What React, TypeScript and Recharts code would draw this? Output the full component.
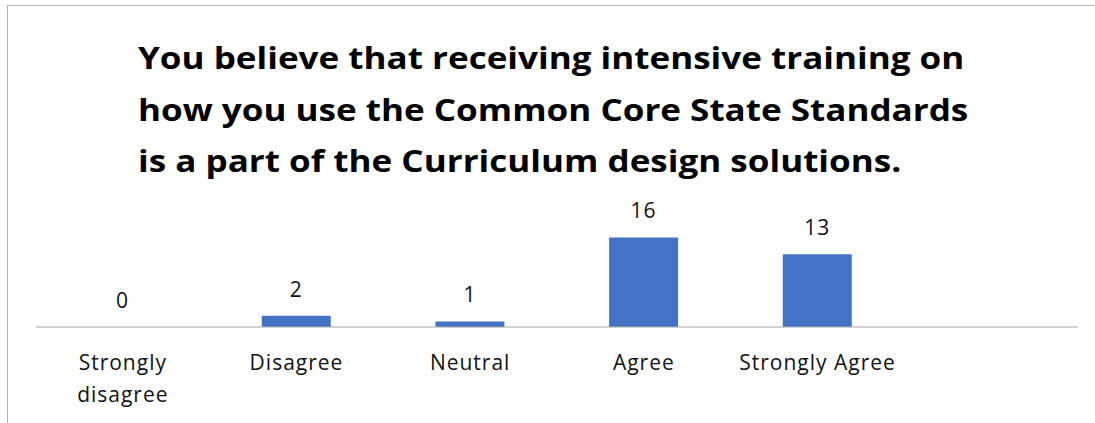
import { BarChart, Bar, XAxis, YAxis, LabelList } from "recharts";

const categories = ["Strongly disagree", "Disagree", "Neutral", "Agree", "Strongly Agree", ""];
const responses: (number | null)[] = [0, 2, 1, 16, 13, null];
const titleLines = [
  "You believe that receiving intensive training on",
  "how you use the Common Core State Standards",
  "is a part of the Curriculum design solutions.",
];

const data = categories.map((category, i) => ({ category, count: responses[i] }));

const FONT = "'Open Sans', sans-serif";

// greedy word wrap by character count (the slot fits ~15 chars)
function wrapLabel(label: string, maxChars = 15) {
  const lines: string[] = [];
  let cur = "";
  label.split(" ").forEach((w) => {
    const next = cur ? cur + " " + w : w;
    if (next.length > maxChars && cur) {
      lines.push(cur);
      cur = w;
    } else {
      cur = next;
    }
  });
  if (cur) lines.push(cur);
  return lines;
}

function CategoryTick(props: any) {
  const { x, y, payload } = props;
  if (!payload.value) return null;
  const lines = wrapLabel(payload.value);
  return (
    <text
      x={x}
      y={y + 43}
      textAnchor="middle"
      fontSize={21}
      fontFamily={FONT}
      letterSpacing={1}
      fill="#111"
    >
      {lines.map((line, i) => (
        <tspan key={line} x={x} dy={i === 0 ? 0 : 32}>
          {line}
        </tspan>
      ))}
    </text>
  );
}

function ValueLabel(props: any) {
  const { x, y, width, value } = props;
  if (value === null || value === undefined) return null;
  return (
    <text
      x={x + width / 2}
      y={y - 19}
      textAnchor="middle"
      fontSize={21}
      fontFamily={FONT}
      letterSpacing={1}
      fill="#111"
    >
      {value}
    </text>
  );
}

export default function App() {
  return (
    <div style={{ position: "absolute", left: 0, top: 0, width: 1095, height: 423, background: "#fff" }}>
      {/* frame lines */}
      <div style={{ position: "absolute", left: 7, top: 5, right: 0, height: 1, background: "#b4b4b4" }} />
      <div style={{ position: "absolute", left: 7, top: 5, width: 1, bottom: 0, background: "#b4b4b4" }} />

      <div
        style={{
          position: "absolute",
          left: 138,
          top: 32,
          fontFamily: FONT,
          fontWeight: 700,
          fontSize: 31,
          lineHeight: "51.5px",
          color: "#000",
          whiteSpace: "nowrap",
          transform: "scaleX(1.13)",
          transformOrigin: "left top",
        }}
      >
        {titleLines.map((line) => (
          <div key={line}>{line}</div>
        ))}
      </div>

      <div style={{ position: "absolute", left: 0, top: 0 }}>
        <BarChart
          width={1095}
          height={423}
          data={data}
          margin={{ top: 215, right: 17, bottom: 0, left: 36 }}
          barCategoryGap="30%"
        >
          <XAxis
            dataKey="category"
            height={96}
            interval={0}
            tickLine={false}
            tickSize={0}
            tickMargin={0}
            axisLine={{ stroke: "#a6a6a6", strokeWidth: 1 }}
            tick={<CategoryTick />}
          />
          <YAxis hide domain={[0, 20]} />
          <Bar dataKey="count" fill="#4472C4" minPointSize={0.01} isAnimationActive={false}>
            <LabelList dataKey="count" content={<ValueLabel />} />
          </Bar>
        </BarChart>
      </div>
    </div>
  );
}
